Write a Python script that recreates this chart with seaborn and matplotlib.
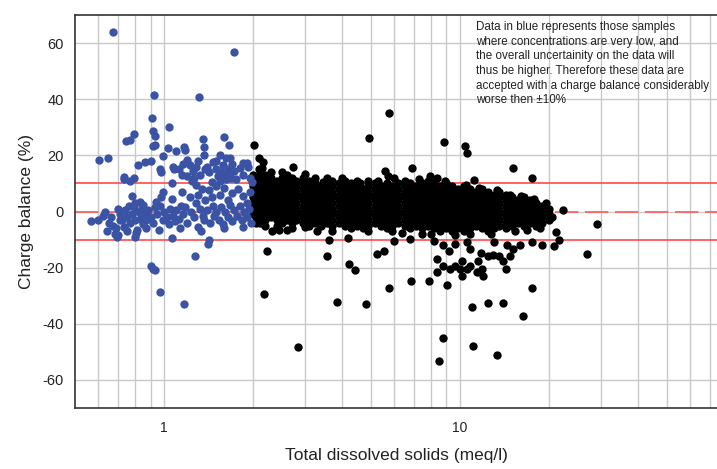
import numpy as np
import pandas as pd
import seaborn as sns
import matplotlib.pyplot as plt

## Data (TDS in meq/l, charge balance in %)
# low concentration samples (blue)
blue_tds = [0.673, 1.72, 0.925, 1.31, 0.91, 0.92, 0.93, 1.04, 0.92, 0.935,
            0.603, 0.647, 0.744, 0.77, 0.79, 0.733, 0.735, 0.77, 0.79, 0.817,
            0.863, 0.9, 0.97, 0.975, 0.99, 1.03, 1.1, 1.07, 1.08, 1.06,
            1.17, 1.18, 1.35, 1.36, 1.37, 1.38, 1.6, 1.66, 1.62, 1.67,
            1.85, 1.9,
            1.12, 1.15, 1.16, 1.2, 1.22, 1.25, 1.26, 1.2, 1.24, 1.28,
            1.3, 1.32, 1.4, 1.42, 1.46, 1.5, 1.52, 1.55, 1.56, 1.58,
            1.6, 1.62, 1.64, 1.66, 1.68, 1.7, 1.72, 1.75, 1.8, 1.85,
            1.92, 1.95, 1.98, 1.5, 1.55, 1.45,
            0.98, 0.99, 1.06, 1.15, 1.22, 1.3, 1.34, 1.38, 1.42, 1.45,
            1.5, 1.55, 1.6, 1.65, 1.7, 1.78, 1.85, 1.95, 0.8, 0.78,
            0.85, 1.28, 1.9,
            0.567, 0.6, 0.62, 0.63, 0.65, 0.66, 0.67, 0.68, 0.69, 0.7,
            0.71, 0.72, 0.73, 0.74, 0.75, 0.76, 0.77, 0.78, 0.79, 0.8,
            0.81, 0.82, 0.83, 0.84, 0.85, 0.86, 0.87, 0.88, 0.9, 0.92,
            0.93, 0.95, 0.97, 0.99, 1.0, 1.02, 1.04, 1.05, 1.07, 1.09,
            1.1, 1.12, 1.14, 1.16, 1.18, 1.2, 1.23, 1.26, 1.28, 1.3,
            1.32, 1.35, 1.37, 1.4, 1.43, 1.46, 1.48, 1.5, 1.53, 1.56,
            1.58, 1.61, 1.64, 1.67, 1.7, 1.73, 1.76, 1.8, 1.83, 1.87,
            1.9, 1.94, 1.97, 0.694, 0.7, 0.8, 0.805, 1.06, 1.27, 1.41,
            1.42, 0.9, 0.93, 0.92, 0.97, 1.17, 0.75, 0.87, 0.96, 1.13,
            1.33, 1.6, 1.85, 0.64, 0.71, 0.83, 0.94]
blue_cb = [64, 56.8, 41.6, 40.8, 33.4, 28.6, 27, 30, 23.4, 23.6,
           18.5, 19, 25, 25.5, 27.6, 12.4, 11.5, 11, 12, 16.7,
           17.8, 18, 15, 14, 19.9, 22.8, 21.7, 15.8, 15, 10.2,
           23, 22, 26, 23, 20, 15, 26.6, 23.8, 19, 19,
           17.4, 17.4,
           15, 13, 17, 18.5, 16.5, 14.5, 12, 12.5, 11, 16,
           18, 13, 16, 14, 17.5, 15, 12.5, 11, 14, 16.5,
           13, 11.5, 15, 13.5, 12, 17, 14.5, 11.5, 15.5, 13,
           16, 12, 10.5, 18, 20, 10.5,
           5, 7, 4.5, 7, 5, 6, 8, 4, 7.5, 5,
           9, 6, 8.5, 4, 6.5, 8, 5.5, 7, 3, 5.5,
           2.5, 9.5, 3,
           -3.5, -3, -1.5, 0, -4, -2, -5, -8, -6, 1,
           -1, -3, -5.5, 0.5, -2, 2, -4, -1, 1.5, -3,
           -6.5, 0, -2.5, 1, -4.5, -1.5, -3, 0.5, -2, -4,
           1.5, -1, 2, -3, 0, -2, -4.5, 1, -1.5, -3.5,
           0.5, -2.5, 2, -1, 1.5, -4, 0, -2, 3, -5.5,
           1, -1.5, -3, 0.5, -4, 2, -1.5, 0, -3, 1.5,
           -4.5, 0, -2, 2.5, -3.5, 0.5, -1.5, 2, -3, 0,
           -2, 1, -4, -9.2, -8.5, -9, -7.6, -9.6, -16, -11.7,
           -10, -19.5, -21, -20.5, -28.8, -33, -7, -6, -6.5, -6,
           -7, -6, -5.5, -7, -3, 3.5, 3.5]

# scattered samples (black) away from the main cloud
black_tds = [2.23, 2.18, 2.84, 3.55, 3.84, 4.22, 4.42, 4.81, 5.25, 5.54,
             5.76, 6.82, 7.86, 8.4, 8.4, 8.5, 8.77, 9.05, 10.2, 10.96,
             11.1, 12.4, 13.4, 14.0, 16.4, 17.6, 27.0, 29.0, 22.3, 20.8,
             21.6, 21.2,
             3.6, 4.2, 6.0, 6.8, 8.2, 2.32, 2.11, 2.6, 3.0, 3.3,
             8.77, 9.24, 9.62, 10.0, 10.2, 10.6, 10.8, 11.4, 11.5, 11.8,
             11.9, 12.0, 12.4, 12.9, 13.6, 14.0, 14.3, 14.8, 15.1, 14.4,
             10.8, 10.6, 9.62, 8.77, 9.2, 13.0, 16.0, 17.5, 19.0,
             5.75, 4.93, 8.85, 10.4, 10.6, 6.87, 5.6, 5.7, 15.1, 17.6,
             7.9, 8.4, 9.0, 11.2, 2.01, 2.1, 2.16, 2.15, 2.73,
             2.45, 3.0, 3.45, 4.0, 4.6, 5.3, 6.0, 6.35, 7.3, 8.0,
             8.9, 9.6, 10.5, 11.6, 12.7, 13.3, 14.8, 16.1, 17.8, 18.6,
             19.5, 20.5, 16.9, 15.4]
black_cb = [-14.2, -29.5, -48.3, -16, -32.3, -18.8, -21, -33, -15.3, -14.2,
            -27.4, -24.9, -24.9, -17, -21.7, -53.3, -45, -26.3, -23, -34,
            -48, -32.7, -51, -32.7, -37.3, -27.4, -15, -4.6, 0.7, -12.4,
            -10, -7.4,
            -10, -9.5, -10.5, -9.8, -10.5, -7, -4, -6.5, -5.5, -7,
            -19.5, -20.6, -19.5, -20.6, -17.7, -20.6, -19.5, -21.7, -17.7, -14.6,
            -20.6, -23, -16, -15.5, -16, -17.7, -20.6, -16, -13.5, -12,
            -13.5, -11, -11.5, -12, -14, -11, -12, -11, -12,
            35.1, 26.2, 24.9, 23.2, 21, 15.6, 14.6, 12.5, 15.6, 12,
            12.8, 12, 10.3, 11.4, 23.8, 19.2, 17.8, 15.6, 16,
            -6.5, 13.5, 10.5, 12, 10, 11, 12, -7.5, 11.5, -8,
            11, -8.5, 9.5, 8.5, -8, 7.5, 6, 5.5, 4.5, -6,
            3, -2, -6.5, -7]

# main black cloud, one column of values per TDS position
cloud_tds = [2.0, 2.05, 2.1, 2.15, 2.2, 2.3, 2.4, 2.5, 2.6, 2.7,
             2.8, 2.95, 3.1, 3.25, 3.4, 3.55, 3.7, 3.9, 4.1, 4.3,
             4.5, 4.7, 4.9, 5.15, 5.4, 5.65, 5.9, 6.2, 6.5, 6.8,
             7.1, 7.45, 7.8, 8.2, 8.6, 9.0, 9.4, 9.85, 10.3, 10.8,
             11.3, 11.85, 12.4, 13.0, 13.6, 14.3, 15.0, 15.7, 16.5, 17.3,
             18.1, 19.0, 20.0]
cloud_cb = [[13, 11, 9, 7, 5, 3, 1, -1],
            [12, 10, 8, 6, 4, 2, 0, -2, -4],
            [15, 13, 11, 9, 7, 5, 3, 1, -1, -3],
            [12, 10, 8, 6, 4, 2, 0, -2],
            [13, 11, 9, 7, 5, 3, 1, -1, -3, -5],
            [14, 12, 10, 8, 6, 4, 2, 0, -2],
            [11, 9, 7, 5, 3, 1, -1, -3, -5],
            [14, 12, 10, 8, 6, 4, 2, 0, -2, -4],
            [13, 11, 9, 7, 5, 3, 1, -1, -3],
            [12, 10, 8, 6, 4, 2, 0, -2, -4, -6],
            [11, 9, 7, 5, 3, 1, -1, -3],
            [12, 10, 8, 6, 4, 2, 0, -2, -4],
            [11, 9, 7, 5, 3, 1, -1, -3, -5],
            [12, 10, 8, 6, 4, 2, 0, -2, -4],
            [9, 7, 5, 3, 1, -1, -3, -5],
            [12, 10, 8, 6, 4, 2, 0, -2, -4],
            [11, 9, 7, 5, 3, 1, -1, -3, -5, -7],
            [10, 8, 6, 4, 2, 0, -2, -4],
            [11, 9, 7, 5, 3, 1, -1, -3, -5],
            [10, 8, 6, 4, 2, 0, -2, -4, -6],
            [11, 9, 7, 5, 3, 1, -1, -3, -5],
            [8, 6, 4, 2, 0, -2, -4, -6],
            [11, 9, 7, 5, 3, 1, -1, -3, -5, -7],
            [10, 8, 6, 4, 2, 0, -2, -4],
            [9, 7, 5, 3, 1, -1, -3, -5],
            [10, 8, 6, 4, 2, 0, -2, -4, -6],
            [9, 7, 5, 3, 1, -1, -3, -5, -7],
            [10, 8, 6, 4, 2, 0, -2, -4],
            [11, 9, 7, 5, 3, 1, -1, -3, -5],
            [10, 8, 6, 4, 2, 0, -2, -4, -6],
            [9, 7, 5, 3, 1, -1, -3, -5],
            [10, 8, 6, 4, 2, 0, -2, -4, -6, -8],
            [11, 9, 7, 5, 3, 1, -1, -3, -5],
            [10, 8, 6, 4, 2, 0, -2, -4, -6],
            [9, 7, 5, 3, 1, -1, -3, -5, -7],
            [10, 8, 6, 4, 2, 0, -2, -4, -6],
            [9, 7, 5, 3, 1, -1, -3, -5, -7],
            [8, 6, 4, 2, 0, -2, -4, -6],
            [9, 7, 5, 3, 1, -1, -3, -5, -7],
            [8, 6, 4, 2, 0, -2, -4, -6, -8],
            [7, 5, 3, 1, -1, -3, -5],
            [8, 6, 4, 2, 0, -2, -4, -6],
            [7, 5, 3, 1, -1, -3, -5, -7],
            [6, 4, 2, 0, -2, -4, -6],
            [7, 5, 3, 1, -1, -3, -5],
            [6, 4, 2, 0, -2, -4, -6],
            [5, 3, 1, -1, -3, -5],
            [4, 2, 0, -2, -4],
            [5, 3, 1, -1, -3, -5],
            [4, 2, 0, -2, -4],
            [3, 1, -1, -3, -5],
            [2, 0, -2, -4],
            [1, -1, -3]]

note = ("Data in blue represents those samples\n"
        "where concentrations are very low, and\n"
        "the overall uncertainity on the data will\n"
        "thus be higher. Therefore these data are\n"
        "accepted with a charge balance considerably\n"
        "worse then \u00b110%")

## build tables
blue = pd.DataFrame({"tds": blue_tds, "cb": blue_cb})
cx, cy = [], []
for t, col in zip(cloud_tds, cloud_cb):
    cx += [t] * len(col)
    cy += col
black = pd.DataFrame({"tds": black_tds + cx, "cb": black_cb + cy})

## plot
sns.set_theme(style="white")
plt.rcParams['font.family'] = ['Liberation Sans', 'DejaVu Sans']
plt.rcParams['axes.unicode_minus'] = False

fig = plt.figure(figsize=(7.17, 4.69), dpi=100)
ax = fig.add_axes([0.1046, 0.130, 0.8954, 0.838])
ax.set_xscale("log")

grid_c = "#c9c9cc"
ax.set_xticks([1, 10])
ax.set_xticklabels(["1", "10"])
ax.set_xticks([0.6, 0.7, 0.8, 0.9, 2, 3, 4, 5, 6, 7, 8, 9,
               20, 30, 40, 50, 60, 70], minor=True)
ax.set_yticks([-60, -40, -20, 0, 20, 40, 60])
ax.grid(True, which="both", axis="x", color=grid_c, lw=1.0)
ax.grid(True, which="major", axis="y", color=grid_c, lw=1.0)
ax.set_axisbelow(True)

ax.axhline(10, color="#ff4a4a", lw=1.2, zorder=1)
ax.axhline(-10, color="#ff4a4a", lw=1.2, zorder=1)
ax.axhline(0, color="#ff5a5a", lw=1.2, dashes=(14, 4), zorder=1)

sns.scatterplot(data=black, x="tds", y="cb", color="black", s=36,
                linewidth=0, ax=ax, zorder=3)
sns.scatterplot(data=blue, x="tds", y="cb", color="#3a53a4", s=36,
                linewidth=0, ax=ax, zorder=3)

ax.set_xlim(0.5, 74)
ax.set_ylim(-70, 70)
ax.set_xlabel("Total dissolved solids (meq/l)", fontsize=12.5, color="#222222", labelpad=10)
ax.set_ylabel("Charge balance (%)", fontsize=12.5, color="#222222", labelpad=6)
ax.tick_params(axis="x", which="major", length=4, width=1, color="#333333",
               labelsize=10, pad=5, labelcolor="#222222")
ax.tick_params(axis="x", which="minor", length=0)
ax.tick_params(axis="y", length=0, labelsize=10.5, pad=8, labelcolor="#222222")

for side in ["left", "bottom", "top"]:
    ax.spines[side].set_color("#333333")
    ax.spines[side].set_linewidth(1.2)
ax.spines["right"].set_visible(False)

ax.text(0.625, 0.985, note, transform=ax.transAxes, fontsize=8.4,
        va="top", ha="left", linespacing=1.3, color="#222222", clip_on=False)

fig.savefig("out.png", dpi=100)
